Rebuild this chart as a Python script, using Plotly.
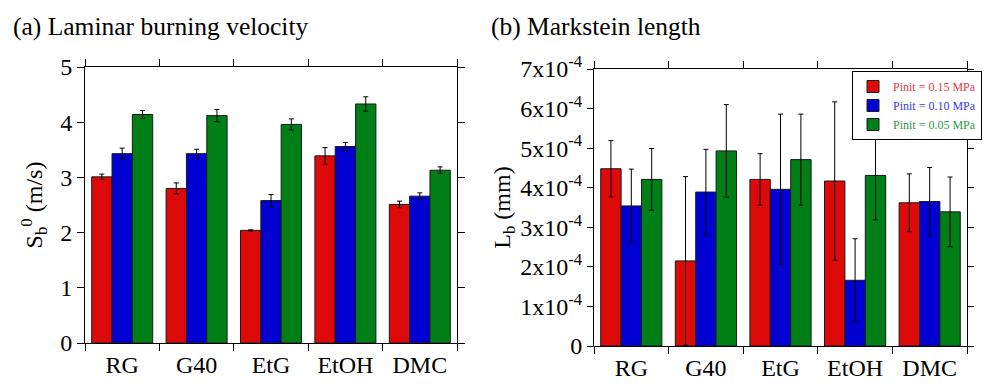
import plotly.graph_objects as go

categories = ["RG", "G40", "EtG", "EtOH", "DMC"]
series_names = ["Pinit = 0.15 MPa", "Pinit = 0.10 MPa", "Pinit = 0.05 MPa"]
colors = ["#de0a0a", "#0000d2", "#007f17"]
legend_text_colors = ["#e8383d", "#3a3ae8", "#2e9a3e"]

# (a) Laminar burning velocity S_b^0 (m/s)
sb_015 = [3.01, 2.80, 2.04, 3.39, 2.51]
sb_010 = [3.43, 3.43, 2.58, 3.56, 2.66]
sb_005 = [4.14, 4.12, 3.96, 4.33, 3.13]
sb_err_015 = [0.05, 0.10, 0.01, 0.15, 0.06]
sb_err_010 = [0.10, 0.08, 0.11, 0.07, 0.06]
sb_err_005 = [0.07, 0.11, 0.10, 0.13, 0.06]

# (b) Markstein length L_b (mm)
lb_015 = [4.48e-4, 2.15e-4, 4.21e-4, 4.17e-4, 3.62e-4]
lb_010 = [3.54e-4, 3.89e-4, 3.96e-4, 1.66e-4, 3.65e-4]
lb_005 = [4.21e-4, 4.93e-4, 4.71e-4, 4.31e-4, 3.39e-4]
lb_err_015 = [0.71e-4, 2.13e-4, 0.65e-4, 2.00e-4, 0.73e-4]
lb_err_010 = [0.93e-4, 1.08e-4, 1.90e-4, 1.05e-4, 0.86e-4]
lb_err_005 = [0.78e-4, 1.17e-4, 1.15e-4, 1.12e-4, 0.88e-4]

lb_tickvals = [0, 1e-4, 2e-4, 3e-4, 4e-4, 5e-4, 6e-4, 7e-4]
lb_ticktext = ["0"] + [f"{i}x10<sup>-4</sup>" for i in range(1, 8)]

FONT = "Liberation Serif, Times New Roman, serif"
W, H = 995, 386
OFF = 8  # page body margin
WF, HF = W - OFF, H - OFF
ML, MR, MT, MB = 72, 12, 52, 32
PW, PH = WF - ML - MR, HF - MT - MB


def px_x(p):
    return (p - OFF - ML) / PW


def px_y(p):
    return (HF - MB - (p - OFF)) / PH


fig = go.Figure()

sb_vals = [sb_015, sb_010, sb_005]
sb_errs = [sb_err_015, sb_err_010, sb_err_005]
lb_vals = [lb_015, lb_010, lb_005]
lb_errs = [lb_err_015, lb_err_010, lb_err_005]

for i in range(3):
    fig.add_trace(go.Bar(
        x=categories, y=sb_vals[i], xaxis="x", yaxis="y",
        marker=dict(color=colors[i], line=dict(color="#1a1a1a", width=1)),
        error_y=dict(type="data", array=sb_errs[i], color="black", thickness=1, width=2.5),
        showlegend=False, name=series_names[i], offsetgroup=str(i),
    ))
for i in range(3):
    fig.add_trace(go.Bar(
        x=categories, y=lb_vals[i], xaxis="x2", yaxis="y2",
        marker=dict(color=colors[i], line=dict(color="#1a1a1a", width=1)),
        error_y=dict(type="data", array=lb_errs[i], color="black", thickness=1, width=2.5),
        showlegend=True,
        name=f'<span style="color:{legend_text_colors[i]}">{series_names[i]}</span>',
        offsetgroup=str(i),
    ))

axis_common = dict(
    showline=True, linecolor="black", linewidth=1, mirror="ticks",
    ticks="outside", tickcolor="black", tickwidth=1,
    showgrid=False, zeroline=False, automargin=False,
    tickfont=dict(family=FONT, size=24, color="black"),
)

fig.update_layout(
    width=WF, height=HF,
    margin=dict(l=ML, r=MR, t=MT, b=MB, autoexpand=False),
    paper_bgcolor="white", plot_bgcolor="white",
    barmode="group", bargap=0.18, bargroupgap=0,
    font=dict(family=FONT, color="black"),
    xaxis=dict(domain=[px_x(85), px_x(457)], anchor="y", type="category",
               tickson="boundaries", ticklen=7, **axis_common),
    yaxis=dict(domain=[px_y(343), px_y(67)], anchor="x", range=[0, 5], dtick=1,
               ticklen=7,
               title=dict(text="S<sub>b</sub><sup>0</sup> (m/s)", font=dict(family=FONT, size=24),
                          standoff=10),
               **axis_common),
    xaxis2=dict(domain=[px_x(594), px_x(967)], anchor="y2", type="category",
                tickson="boundaries", ticklen=7, **axis_common),
    yaxis2=dict(domain=[px_y(346), px_y(69)], anchor="x2", range=[0, 7e-4],
                tickvals=lb_tickvals, ticktext=lb_ticktext, ticklen=6,
                title=dict(text="L<sub>b</sub> (mm)", font=dict(family=FONT, size=24),
                           standoff=2),
                **axis_common),
    legend=dict(x=px_x(982), xanchor="right", y=px_y(71), yanchor="top",
                bgcolor="white", bordercolor="black", borderwidth=1,
                font=dict(family=FONT, size=12), tracegroupgap=0),
    annotations=[
        dict(text="(a) Laminar burning velocity", x=px_x(11), y=px_y(27), xref="paper", yref="paper",
             xanchor="left", yanchor="middle", showarrow=False, font=dict(family=FONT, size=25.5)),
        dict(text="(b) Markstein length", x=px_x(489), y=px_y(27), xref="paper", yref="paper",
             xanchor="left", yanchor="middle", showarrow=False, font=dict(family=FONT, size=25.5)),
    ],
)

fig.write_html("out.html")
